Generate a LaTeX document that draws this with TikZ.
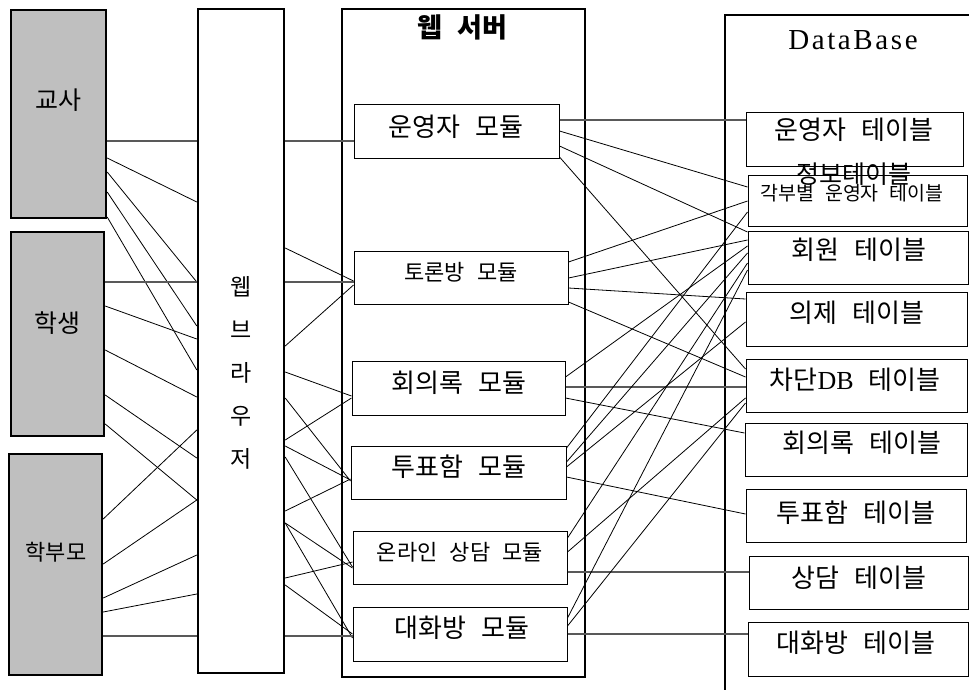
\documentclass[tikz,border=0pt]{standalone}
\usepackage{fontspec}
\setmainfont{Liberation Serif}
\newfontfamily\kr{Noto Sans CJK KR}[WordSpace=2.5]
\newfontfamily\lat{Liberation Serif}
\newfontfamily\dbfont{Liberation Serif}[LetterSpace=9]
\newcommand\fs[1]{\fontsize{#1}{#1}\selectfont}
\newcommand\lnk[5][cn]{\draw[#1] (#2.east |- 0,#3) -- (#4.west |- 0,#5);}
\begin{document}
\begin{tikzpicture}[x=1pt,y=-1pt,
  actor/.style={draw, line width=2.4pt, fill=black!25, inner sep=0pt},
  frame/.style={draw, line width=2.4pt, fill=white, inner sep=0pt},
  modbox/.style={draw, line width=1pt, fill=white, inner sep=0pt},
  tblbox/.style={draw, line width=1pt, fill=white, inner sep=0pt},
  lbl/.style={inner sep=0pt, font=\kr\fs{26}},
  cn/.style={line width=0.8pt},
  hz/.style={line width=1.1pt, black!65}]
\useasboundingbox (0,0) rectangle (969,689);
% frames
\node[frame, minimum width=280pt, minimum height=700pt] (db) at (865,365) {};
\node[frame, minimum width=243pt, minimum height=668pt] (srv) at (463.5,343) {};
\node[frame, minimum width=86pt, minimum height=664pt] (br) at (241,341) {};
% actors
\node[actor, minimum width=95pt, minimum height=208pt] (t1) at (58.5,114) {};
\node[actor, minimum width=93pt, minimum height=204pt] (t2) at (57.5,334) {};
\node[actor, minimum width=93pt, minimum height=221pt] (t3) at (55.5,564.5) {};
% modules
\node[modbox, minimum width=205pt, minimum height=54pt] (m1) at (456.5,131) {};
\node[modbox, minimum width=214pt, minimum height=53pt] (m2) at (461,277.5) {};
\node[modbox, minimum width=213pt, minimum height=54pt] (m3) at (458.5,388) {};
\node[modbox, minimum width=215pt, minimum height=53pt] (m4) at (458.5,472.5) {};
\node[modbox, minimum width=214pt, minimum height=53pt] (m5) at (460,557.5) {};
\node[modbox, minimum width=214pt, minimum height=54pt] (m6) at (460,634) {};
% tables
\node[tblbox, minimum width=217pt, minimum height=54pt] (d1) at (854.5,139) {};
\node[tblbox, minimum width=219pt, minimum height=51pt] (d2) at (857.5,200.5) {};
\node[tblbox, minimum width=220pt, minimum height=53pt] (d3) at (858,257.5) {};
\node[tblbox, minimum width=221pt, minimum height=54pt] (d4) at (856.5,319) {};
\node[tblbox, minimum width=221pt, minimum height=53pt] (d5) at (856.5,385.5) {};
\node[tblbox, minimum width=222pt, minimum height=53pt] (d6) at (856,449.5) {};
\node[tblbox, minimum width=220pt, minimum height=53pt] (d7) at (856,515.5) {};
\node[tblbox, minimum width=219pt, minimum height=53pt] (d8) at (858.5,582.5) {};
\node[tblbox, minimum width=220pt, minimum height=54pt] (d9) at (858,649) {};
% actors -> browser
\lnk[hz]{t1}{141}{br}{141}
\lnk{t1}{158}{br}{202}
\lnk{t1}{172}{br}{282}
\lnk{t1}{192}{br}{326}
\lnk{t1}{217}{br}{370}
\lnk[hz]{t2}{282}{br}{282}
\lnk{t2}{306}{br}{339}
\lnk{t2}{350}{br}{397}
\lnk{t2}{395}{br}{458}
\lnk{t2}{424}{br}{500}
\lnk{t3}{519}{br}{430}
\lnk{t3}{564}{br}{500}
\lnk{t3}{598}{br}{555}
\lnk{t3}{612}{br}{594}
\lnk[hz]{t3}{636}{br}{636}
% browser -> modules
\lnk[hz]{br}{141}{m1}{141}
\lnk{br}{248}{m2}{281}
\lnk[hz]{br}{282}{m2}{282}
\lnk{br}{346}{m2}{285}
\lnk{br}{372}{m3}{396}
\lnk{br}{440}{m3}{398}
\lnk{br}{398}{m4}{481}
\lnk{br}{446}{m4}{480}
\lnk{br}{511}{m4}{479}
\lnk{br}{457}{m5}{567}
\lnk{br}{523}{m5}{568}
\lnk{br}{578}{m5}{562}
\lnk{br}{523}{m6}{638}
\lnk{br}{585}{m6}{634}
\lnk[hz]{br}{636}{m6}{636}
% modules -> tables
\lnk[hz]{m1}{120}{d1}{120}
\lnk{m1}{131}{d2}{187}
\lnk{m1}{146}{d3}{232}
\lnk{m1}{157}{d5}{369}
\lnk{m2}{262}{d2}{201}
\lnk{m2}{278}{d3}{240}
\lnk{m2}{288}{d4}{299}
\lnk{m2}{302}{d5}{377}
\lnk{m3}{377}{d3}{246}
\lnk[hz]{m3}{387}{d5}{387}
\lnk{m3}{398}{d6}{433}
\lnk{m4}{448}{d2}{212}
\lnk{m4}{462}{d3}{253}
\lnk{m4}{467}{d4}{322}
\lnk{m4}{477}{d7}{514}
\lnk{m5}{538}{d3}{263}
\lnk{m5}{552}{d5}{398}
\lnk[hz]{m5}{572}{d8}{572}
\lnk{m6}{618}{d3}{270}
\lnk{m6}{626}{d5}{403}
\lnk[hz]{m6}{634}{d9}{634}
% texts
\node[lbl, font=\kr\fs{25}] (t1l) at (58,100) {교사};
\node[lbl, font=\kr\fs{25}] (t2l) at (57,323) {학생};
\node[lbl, font=\kr\fs{22}] (t3l) at (56,552) {학부모};
\node[lbl, font=\kr\fontsize{23}{43}\selectfont, align=center] (brl) at (241,373) {웹\\브\\라\\우\\저};
\node[lbl, font=\kr\fs{27}\bfseries] (srvl) at (462,27) {웹 서버};
\node[inner sep=0pt, font=\dbfont\fs{29}] (dbl) at (853,40) {DataBase};
\node[lbl] (m1l) at (456,127) {운영자 모듈};
\node[lbl, font=\kr\fs{22}] (m2l) at (461,272) {토론방 모듈};
\node[lbl] (m3l) at (459,383) {회의록 모듈};
\node[lbl] (m4l) at (459,467) {투표함 모듈};
\node[lbl, font=\kr\fs{22}] (m5l) at (460,552) {온라인 상담 모듈};
\node[lbl] (m6l) at (462,628) {대화방 모듈};
\node[lbl] (d1l) at (854,130) {운영자 테이블};
\node[lbl, font=\kr\fs{25}] (d2x) at (854,174) {정보테이블};
\node[lbl, font=\kr\fs{19.5}] (d2l) at (852,193) {각부별 운영자 테이블};
\node[lbl] (d3l) at (859,250) {회원 테이블};
\node[lbl] (d4l) at (857,313) {의제 테이블};
\node[lbl] (d5l) at (855,380) {차단{\lat DB} 테이블};
\node[lbl] (d6l) at (862,443) {회의록 테이블};
\node[lbl] (d7l) at (856,513) {투표함 테이블};
\node[lbl] (d8l) at (859,578) {상담 테이블};
\node[lbl] (d9l) at (856,643) {대화방 테이블};
\end{tikzpicture}
\end{document}
